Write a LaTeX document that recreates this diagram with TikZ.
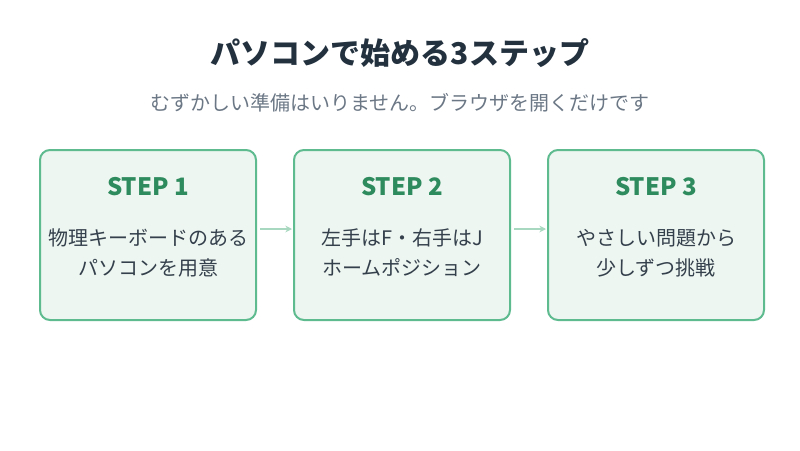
\documentclass[tikz,border=0pt]{standalone}
\usepackage{fontspec}
\setmainfont{Noto Sans CJK JP}
\usetikzlibrary{arrows.meta}
\definecolor{navy}{HTML}{23313F}
\definecolor{subgray}{HTML}{6B7785}
\definecolor{boxfill}{HTML}{EEF6F1}
\definecolor{boxline}{HTML}{5DBB8F}
\definecolor{stepgreen}{HTML}{2E8B5E}
\definecolor{bodytext}{HTML}{34404C}
\definecolor{arrowc}{HTML}{A8D8BF}
\begin{document}
\begin{tikzpicture}[x=0.75pt,y=-0.75pt,
  stepbox/.style={draw=boxline,line width=1.5pt,fill=boxfill,rounded corners=7.5pt,minimum width=162pt,minimum height=127.5pt,inner sep=0pt},
  steptitle/.style={text=stepgreen,font=\bfseries\fontsize{18}{22}\selectfont},
  stepbody/.style={text=bodytext,font=\fontsize{15}{22.5}\selectfont,align=center},
  conn/.style={draw=arrowc,line width=1pt,-{Stealth[length=5pt,width=5pt]}}]
\useasboundingbox (0,0) rectangle (800,450);
\node[text=navy,font=\bfseries\fontsize{22.5}{27}\selectfont] (title) at (400,53) {パソコンで始める3ステップ};
\node[text=subgray,font=\fontsize{15}{18}\selectfont] (sub) at (400,103) {むずかしい準備はいりません。ブラウザを開くだけです};
\node[stepbox] (b1) at (148,235) {};
\node[stepbox] (b2) at (402,235) {};
\node[stepbox] (b3) at (656,235) {};
\node[steptitle] (t1) at (148,187) {STEP 1};
\node[steptitle] (t2) at (402,187) {STEP 2};
\node[steptitle] (t3) at (656,187) {STEP 3};
\node[stepbody] (d1) at (148,253) {物理キーボードのある\\パソコンを用意};
\node[stepbody] (d2) at (402,253) {左手はF・右手はJ\\ホームポジション};
\node[stepbody] (d3) at (656,253) {やさしい問題から\\少しずつ挑戦};
\coordinate (a1s) at (260,229); \coordinate (a1e) at (292,229);
\coordinate (a2s) at (514,229); \coordinate (a2e) at (546,229);
\draw[conn] (a1s) -- (a1e);
\draw[conn] (a2s) -- (a2e);
\end{tikzpicture}
\end{document}
